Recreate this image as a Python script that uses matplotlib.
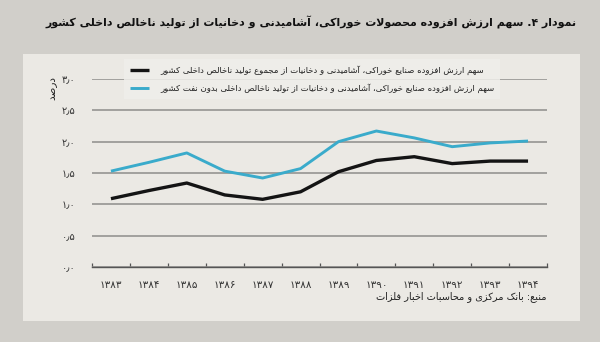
import re

import matplotlib
matplotlib.use("Agg")
import matplotlib.pyplot as plt
from matplotlib.patches import Rectangle

# ---------------------------------------------------------------- data
years = [1383, 1384, 1385, 1386, 1387, 1388, 1389, 1390, 1391, 1392, 1393, 1394]
share_total = [1.09, 1.22, 1.34, 1.15, 1.08, 1.20, 1.52, 1.70, 1.76, 1.65, 1.69, 1.69]
share_non_oil = [1.53, 1.67, 1.82, 1.53, 1.42, 1.57, 2.00, 2.17, 2.06, 1.92, 1.98, 2.01]
y_ticks = [0.0, 0.5, 1.0, 1.5, 2.0, 2.5, 3.0]

title = "نمودار ۴. سهم ارزش افزوده محصولات خوراکی، آشامیدنی و دخانیات از تولید ناخالص داخلی کشور"
label_total = "سهم ارزش افزوده صنایع خوراکی، آشامیدنی و دخانیات از مجموع تولید ناخالص داخلی کشور"
label_non_oil = "سهم ارزش افزوده صنایع خوراکی، آشامیدنی و دخانیات از تولید ناخالص داخلی بدون نفت کشور"
y_label = "درصد"
source = "منبع: بانک مرکزی و محاسبات اخبار فلزات"


# ---------------------------------------------------------------- persian text helpers
# matplotlib has no text shaping, so letters are mapped to their presentation
# forms (isolated, final, initial, medial) and the string is laid out RTL.
def _forms(base, dual=True):
    return tuple(chr(base + k) for k in range(4 if dual else 2))


FORMS = {
    "ء": (chr(0xFE80),),
    "آ": _forms(0xFE81, False), "أ": _forms(0xFE83, False),
    "ؤ": _forms(0xFE85, False), "إ": _forms(0xFE87, False),
    "ئ": _forms(0xFE89), "ا": _forms(0xFE8D, False),
    "ب": _forms(0xFE8F), "ة": _forms(0xFE93, False),
    "ت": _forms(0xFE95), "ث": _forms(0xFE99),
    "ج": _forms(0xFE9D), "ح": _forms(0xFEA1), "خ": _forms(0xFEA5),
    "د": _forms(0xFEA9, False), "ذ": _forms(0xFEAB, False),
    "ر": _forms(0xFEAD, False), "ز": _forms(0xFEAF, False),
    "س": _forms(0xFEB1), "ش": _forms(0xFEB5),
    "ص": _forms(0xFEB9), "ض": _forms(0xFEBD),
    "ط": _forms(0xFEC1), "ظ": _forms(0xFEC5),
    "ع": _forms(0xFEC9), "غ": _forms(0xFECD),
    "ف": _forms(0xFED1), "ق": _forms(0xFED5),
    "ل": _forms(0xFEDD), "م": _forms(0xFEE1),
    "ن": _forms(0xFEE5), "ه": _forms(0xFEE9),
    "و": _forms(0xFEED, False),
    "پ": _forms(0xFB56), "چ": _forms(0xFB7A),
    "ژ": _forms(0xFB8A, False), "ک": _forms(0xFB8E),
    "گ": _forms(0xFB92), "ی": _forms(0xFBFC),
}
LAM_ALEF = {
    "ا": _forms(0xFEFB, False), "آ": _forms(0xFEF5, False),
    "أ": _forms(0xFEF7, False), "إ": _forms(0xFEF9, False),
}
FA_DIGITS = str.maketrans("0123456789.", "۰۱۲۳۴۵۶۷۸۹٫")


def shape(text):
    units = []
    i = 0
    while i < len(text):
        c = text[i]
        if c == "ل" and i + 1 < len(text) and text[i + 1] in LAM_ALEF:
            units.append(LAM_ALEF[text[i + 1]])
            i += 2
        else:
            units.append(FORMS.get(c, c))
            i += 1
    out = []
    for k, u in enumerate(units):
        if isinstance(u, str):
            out.append(u)
            continue
        prev = units[k - 1] if k > 0 else None
        nxt = units[k + 1] if k + 1 < len(units) else None
        join_prev = len(u) > 1 and isinstance(prev, tuple) and len(prev) == 4
        join_next = len(u) == 4 and isinstance(nxt, tuple) and len(nxt) > 1
        if join_prev and join_next:
            out.append(u[3])
        elif join_prev:
            out.append(u[1])
        elif join_next:
            out.append(u[2])
        else:
            out.append(u[0])
    return "".join(out)


def fa(text):
    tokens = re.findall(r"[0-9۰-۹]+(?:[٫.,][0-9۰-۹]+)*|.", shape(text))
    return "".join(reversed(tokens))


def fa_num(value, fmt="{}"):
    return fmt.format(value).translate(FA_DIGITS)


# ---------------------------------------------------------------- figure
plt.rcParams["font.family"] = ["DejaVu Sans"]

fig = plt.figure(figsize=(6.0, 3.42), dpi=100, facecolor="#d1cfca")
fig.patches.append(Rectangle((23 / 600, 1 - 321 / 342), 557 / 600, 267 / 342,
                             transform=fig.transFigure, facecolor="#ebe9e4",
                             edgecolor="none", zorder=-5))

ax = fig.add_axes([92 / 600, 1 - 267 / 342, 455 / 600, 188 / 342])
ax.set_facecolor("none")

x = list(range(len(years)))
line_total, = ax.plot(x, share_total, color="#141414", lw=2.4,
                      solid_capstyle="butt", zorder=3, label=fa(label_total))
line_non_oil, = ax.plot(x, share_non_oil, color="#3aabcb", lw=2.1,
                        solid_capstyle="butt", zorder=3, label=fa(label_non_oil))

ax.set_xlim(-0.5, len(years) - 0.5)
ax.set_ylim(0, 3.0)

# horizontal grid
ax.set_yticks(y_ticks)
ax.set_yticklabels([fa_num(v, "{:.1f}") for v in y_ticks])
ax.grid(axis="y", color="#8e8d8a", lw=1.1)
ax.set_axisbelow(True)
ax.tick_params(axis="y", length=0, pad=12, labelsize=7, labelcolor="#333333")

# year bands on the x axis
ax.set_xticks([k - 0.5 for k in range(len(years) + 1)])
ax.set_xticklabels([])
ax.tick_params(axis="x", which="major", direction="in", length=3,
               color="#555555", width=0.9)
ax.set_xticks(x, minor=True)
ax.set_xticklabels([fa_num(y) for y in years], minor=True)
ax.tick_params(axis="x", which="minor", length=0, pad=9, labelsize=7.5,
               labelcolor="#333333")

for side in ("top", "right", "left"):
    ax.spines[side].set_visible(False)
ax.spines["bottom"].set_color("#555555")
ax.spines["bottom"].set_linewidth(1.0)

leg = ax.legend(handles=[line_total, line_non_oil], loc="center",
                bbox_to_anchor=(312 / 600, 1 - 79 / 342),
                bbox_transform=fig.transFigure, fontsize=6.1, frameon=True,
                facecolor="#efeeea", edgecolor="none", framealpha=0.85,
                handlelength=2.3, handletextpad=1.3, labelspacing=1.0,
                borderpad=0.7, borderaxespad=0, fancybox=False)
for t in leg.get_texts():
    t.set_color("#222222")

fig.text(52 / 600, 1 - 88 / 342, fa(y_label), rotation=90, ha="center",
         va="center", fontsize=7.5, color="#222222")
fig.text(577 / 600, 1 - 22 / 342, fa(title), ha="right", va="center",
         fontsize=7.95, fontweight="bold", color="#111111")
fig.text(547 / 600, 1 - 297 / 342, fa(source), ha="right", va="center",
         fontsize=7, color="#222222")

fig.savefig("out.png", dpi=100, facecolor=fig.get_facecolor())
